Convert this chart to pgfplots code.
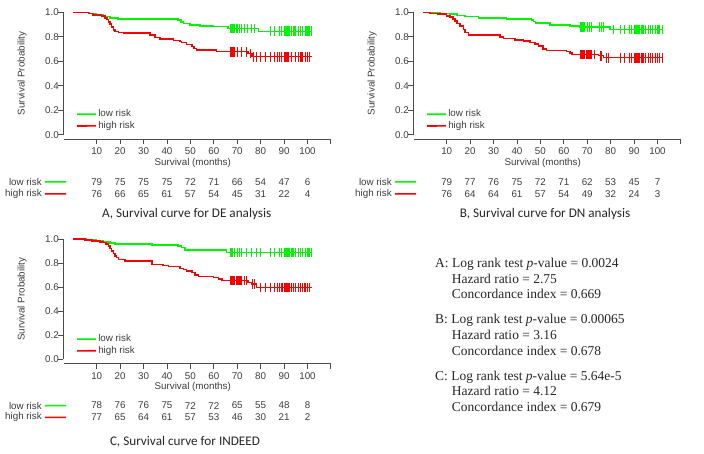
\documentclass[border=0pt]{standalone}
\usepackage{pgfplots}
\pgfplotsset{compat=1.18}
\usepackage{fontspec}
\setmainfont{Liberation Sans}
\newfontfamily\capfont{Carlito}
\newfontfamily\serifont{Liberation Serif}
\definecolor{kmgreen}{RGB}{0,245,0}
\definecolor{kmred}{RGB}{250,0,0}
\definecolor{txt}{RGB}{60,60,60}
\definecolor{axl}{RGB}{75,75,75}
\newcommand\sz{\fontsize{9.8}{11}\selectfont}
\pgfplotsset{km/.style={
  anchor=origin,
  x=2.342pt, y=#1pt,
  xmin=-4.27, xmax=110, ymin=-0.038, ymax=1,
  axis lines=left,
  axis line style={draw=none, -},
  tick align=outside, major tick length=5pt,
  tick style={axl, line width=0.9pt},
  xtick={10,20,...,110}, xticklabels={10,20,30,40,50,60,70,80,90,100,{}},
  ytick={0,0.2,0.4,0.6,0.8,1}, yticklabels={0.0,0.2,0.4,0.6,0.8,1.0},
  ticklabel style={font=\sz, text=txt},
  yticklabel style={xshift=4pt},
  /pgf/number format/assume math mode=true,
  clip=false,
  legend style={at={(axis cs:1.2,0.119)}, anchor=west, draw=none, fill=none,
     font=\sz, text=txt, inner sep=0pt, row sep=0pt,
     nodes={inner sep=1.35pt, text height=7pt, text depth=2pt, anchor=west}},
  legend image code/.code={\draw[##1, line width=1.6pt] (0pt,0pt) -- (19pt,0.05pt);},
  legend cell align=left,
  curve/.style={const plot, line width=1.5pt},
  seg/.style={line width=1.6pt, forget plot},
  cens/.style={only marks, mark=|, mark size=4.8pt, mark options={line width=0.9pt}, forget plot},
  risk/.style={draw=none, forget plot, nodes near coords, point meta=explicit symbolic,
     nodes near coords style={anchor=center, font=\sz, text=txt}, nodes near coords align=center},
}}
\newcommand\decor{%
  \fill[axl] ([xshift=-0.5pt]axis cs:-4.27,0) rectangle ([xshift=0.5pt]axis cs:-4.27,1);
  \fill[axl] ([yshift=-0.5pt]axis cs:-4,-0.038) rectangle ([yshift=0.5pt]axis cs:110,-0.038);
  \node[rotate=90, font=\sz, text=txt] at (axis cs:-21.9,0.5) {Survival Probability};
  \node[font=\sz, text=txt] at (axis cs:51,-0.231) {Survival (months)};
  \node[anchor=east, font=\sz, text=txt, inner sep=0pt] at (axis cs:-13.4,-0.385) {low risk};
  \node[anchor=east, font=\sz, text=txt, inner sep=0pt] at (axis cs:-13.4,-0.483) {high risk};
  \addplot[kmgreen, seg] coordinates {(-12.1,-0.385) (-3.1,-0.3852)};
  \addplot[kmred, seg] coordinates {(-12.1,-0.483) (-3.1,-0.4832)};
}
\begin{document}
\begin{tikzpicture}
\path[use as bounding box] (0,0) rectangle (704pt,454pt);

% ---------------- Panel A ----------------
\begin{axis}[km=122.4, at={(73.3pt,319.3pt)}]
\addplot[kmgreen, curve] coordinates {(0,1) (7,0.99) (10,0.978) (12.8,0.965) (15.7,0.955) (19.1,0.945) (44.8,0.935) (46,0.922) (47,0.91) (49.8,0.897) (54,0.89) (59.8,0.882) (66,0.866) (79,0.845) (101.8,0.845)};
\addlegendentry{low risk}
\addplot[kmred, curve] coordinates {(0,1) (6.4,0.99) (8.5,0.978) (12.1,0.97) (13.5,0.955) (14.3,0.94) (15,0.92) (15.7,0.905) (16.4,0.88) (17.1,0.857) (17.8,0.845) (19.2,0.836) (21.5,0.83) (32.7,0.814) (34.9,0.795) (37,0.78) (42.7,0.77) (45.6,0.76) (46.3,0.752) (48.4,0.735) (50.6,0.72) (51.6,0.705) (52.7,0.692) (61.2,0.678) (74.7,0.664) (76.2,0.637) (101.8,0.637)};
\addlegendentry{high risk}
\addplot[kmgreen, cens] coordinates {(67,0.866) (67.5,0.866) (68,0.866) (68.5,0.866) (69,0.866) (69.5,0.866) (70,0.866) (71,0.866) (72,0.866) (73,0.866) (74.5,0.866) (76,0.866) (77.5,0.866) (84,0.845) (86,0.845) (88,0.845) (89,0.845) (90,0.845) (90.5,0.845) (91,0.845) (91.5,0.845) (92,0.845) (92.5,0.845) (93,0.845) (94,0.845) (94.5,0.845) (95,0.845) (96,0.845) (97,0.845) (98,0.845) (99,0.845) (99.5,0.845) (100,0.845) (100.5,0.845) (101,0.845) (101.5,0.845)};
\addplot[kmred, cens] coordinates {(67,0.678) (67.5,0.678) (68,0.678) (68.5,0.678) (69,0.678) (70,0.678) (72,0.678) (74,0.678) (75.5,0.664) (77,0.637) (78,0.637) (80,0.637) (82,0.637) (84,0.637) (86,0.637) (87,0.637) (88,0.637) (89,0.637) (90,0.637) (90.5,0.637) (91,0.637) (91.5,0.637) (92,0.637) (93,0.637) (95,0.637) (96,0.637) (97,0.637) (97.5,0.637) (98,0.637) (99,0.637) (100,0.637) (101,0.637)};
\addplot[risk] coordinates {(10,-0.385)[79] (20,-0.385)[75] (30,-0.385)[75] (40,-0.385)[75] (50,-0.385)[72] (60,-0.385)[71] (70,-0.385)[66] (80,-0.385)[54] (90,-0.385)[47] (100,-0.385)[6]};
\addplot[risk] coordinates {(10,-0.483)[76] (20,-0.483)[66] (30,-0.483)[65] (40,-0.483)[61] (50,-0.483)[57] (60,-0.483)[54] (70,-0.483)[45] (80,-0.483)[31] (90,-0.483)[22] (100,-0.483)[4]};
\decor
\end{axis}

% ---------------- Panel B ----------------
\begin{axis}[km=122.4, at={(423.3pt,319.3pt)}]
\addplot[kmgreen, curve] coordinates {(0,1) (5,0.995) (7.1,0.99) (11.4,0.984) (14.3,0.973) (17.8,0.965) (23.5,0.955) (35.6,0.946) (46.3,0.935) (47,0.925) (48,0.911) (54.1,0.897) (62.6,0.889) (66.9,0.879) (79.7,0.859) (102.5,0.859)};
\addlegendentry{low risk}
\addplot[kmred, curve] coordinates {(0,1) (2.8,0.99) (6.3,0.985) (10,0.97) (11.4,0.96) (12.7,0.945) (13.5,0.93) (14.3,0.91) (15.7,0.89) (17.1,0.86) (17.8,0.835) (19.2,0.813) (32.7,0.80) (34.2,0.786) (39.2,0.775) (42.7,0.765) (45.6,0.753) (47.7,0.74) (49.1,0.724) (51.2,0.70) (52.7,0.688) (61.2,0.678) (62.6,0.667) (63.5,0.656) (74.7,0.645) (76.9,0.629) (102.5,0.629)};
\addlegendentry{high risk}
\addplot[kmgreen, cens] coordinates {(67,0.879) (67.5,0.879) (68,0.879) (68.5,0.879) (69,0.879) (70,0.879) (71,0.879) (72,0.879) (75,0.879) (76,0.879) (77,0.879) (81,0.859) (84,0.859) (86,0.859) (88,0.859) (89,0.859) (90,0.859) (90.5,0.859) (91,0.859) (91.5,0.859) (92,0.859) (92.5,0.859) (93,0.859) (93.5,0.859) (94,0.859) (95,0.859) (96,0.859) (97,0.859) (98,0.859) (99,0.859) (100,0.859) (100.5,0.859) (101,0.859) (102,0.859)};
\addplot[kmred, cens] coordinates {(67,0.656) (67.5,0.656) (68,0.656) (68.5,0.656) (69,0.656) (69.5,0.656) (70,0.656) (70.5,0.656) (71,0.656) (71.5,0.656) (72,0.656) (73,0.656) (75.5,0.645) (76,0.645) (78,0.629) (79,0.629) (84,0.629) (86,0.629) (88,0.629) (89,0.629) (90,0.629) (90.5,0.629) (91,0.629) (91.5,0.629) (92,0.629) (92.5,0.629) (93,0.629) (93.5,0.629) (94,0.629) (95,0.629) (96,0.629) (97,0.629) (98,0.629) (99,0.629) (100,0.629) (101,0.629) (102,0.629)};
\addplot[risk] coordinates {(10,-0.385)[79] (20,-0.385)[77] (30,-0.385)[76] (40,-0.385)[75] (50,-0.385)[72] (60,-0.385)[71] (70,-0.385)[62] (80,-0.385)[53] (90,-0.385)[45] (100,-0.385)[7]};
\addplot[risk] coordinates {(10,-0.483)[76] (20,-0.483)[64] (30,-0.483)[64] (40,-0.483)[61] (50,-0.483)[57] (60,-0.483)[54] (70,-0.483)[49] (80,-0.483)[32] (90,-0.483)[24] (100,-0.483)[3]};
\decor
\end{axis}

% ---------------- Panel C ----------------
\begin{axis}[km=120.3, at={(73.3pt,94.7pt)}]
\addplot[kmgreen, curve] coordinates {(0,1) (5.7,0.995) (10,0.983) (12.8,0.975) (15.7,0.968) (17.8,0.958) (33.5,0.95) (44.8,0.94) (46.3,0.93) (47.7,0.909) (65.5,0.889) (101.8,0.889)};
\addlegendentry{low risk}
\addplot[kmred, curve] coordinates {(0,1) (5,0.99) (7.9,0.985) (11.4,0.975) (12.8,0.97) (14,0.96) (15,0.94) (15.7,0.92) (16.4,0.90) (17.1,0.88) (17.8,0.86) (18.5,0.845) (19.2,0.83) (22.1,0.817) (33.5,0.79) (38.4,0.778) (40.6,0.77) (45.6,0.756) (47,0.745) (48.4,0.735) (50.6,0.72) (52,0.70) (53.4,0.687) (59.8,0.68) (61.9,0.667) (63.4,0.654) (74.7,0.64) (76.2,0.625) (78.3,0.598) (101.8,0.598)};
\addlegendentry{high risk}
\addplot[kmgreen, cens] coordinates {(67,0.889) (67.5,0.889) (68,0.889) (69,0.889) (70,0.889) (71,0.889) (72,0.889) (74,0.889) (76,0.889) (78,0.889) (80,0.889) (84,0.889) (86,0.889) (88,0.889) (89,0.889) (90,0.889) (90.5,0.889) (91,0.889) (91.5,0.889) (92,0.889) (92.5,0.889) (93,0.889) (93.5,0.889) (94,0.889) (95,0.889) (96,0.889) (97,0.889) (98,0.889) (99,0.889) (100,0.889) (100.5,0.889) (101,0.889) (101.5,0.889)};
\addplot[kmred, cens] coordinates {(67,0.654) (67.5,0.654) (68,0.654) (68.5,0.654) (69,0.654) (69.5,0.654) (70,0.654) (70.5,0.654) (71,0.654) (71.5,0.654) (72,0.654) (73,0.654) (74,0.654) (76.5,0.625) (77.5,0.625) (80,0.598) (82,0.598) (84,0.598) (86,0.598) (87,0.598) (88,0.598) (89,0.598) (89.5,0.598) (90,0.598) (90.5,0.598) (91,0.598) (91.5,0.598) (92,0.598) (92.5,0.598) (93,0.598) (94,0.598) (95,0.598) (96,0.598) (97,0.598) (98,0.598) (98.5,0.598) (99,0.598) (100,0.598) (101,0.598)};
\addplot[risk] coordinates {(10,-0.385)[78] (20,-0.385)[76] (30,-0.385)[76] (40,-0.385)[75] (50,-0.385)[72] (60,-0.385)[72] (70,-0.385)[65] (80,-0.385)[55] (90,-0.385)[48] (100,-0.385)[8]};
\addplot[risk] coordinates {(10,-0.483)[77] (20,-0.483)[65] (30,-0.483)[64] (40,-0.483)[61] (50,-0.483)[57] (60,-0.483)[53] (70,-0.483)[46] (80,-0.483)[30] (90,-0.483)[21] (100,-0.483)[2]};
\decor
\end{axis}

% ---------------- Captions and text ----------------
\begin{scope}[shift={(0,454pt)}, x=1pt, y=-1pt]
\node[font=\capfont\fontsize{13.2}{15}\selectfont, text=black!85] at (186.7,214) {A, Survival curve for DE analysis};
\node[font=\capfont\fontsize{13.2}{15}\selectfont, text=black!85] at (545,214) {B, Survival curve for DN analysis};
\node[font=\capfont\fontsize{13.2}{15}\selectfont, text=black!85] at (185,441.7) {C, Survival curve for INDEED};
\begin{scope}[every node/.style={anchor=base west, inner sep=0pt, font=\serifont\fontsize{13.5}{15}\selectfont, text=black!85}]
\node at (435,267.8) {A: Log rank test \textit{p}-value = 0.0024};
\node at (451.7,283.5) {Hazard ratio = 2.75};
\node at (451.7,298.8) {Concordance index = 0.669};
\node at (435,323.8) {B: Log rank test \textit{p}-value = 0.00065};
\node at (451.7,339.5) {Hazard ratio = 3.16};
\node at (451.7,355.2) {Concordance index = 0.678};
\node at (435,380.2) {C: Log rank test \textit{p}-value = 5.64e-5};
\node at (451.7,395.8) {Hazard ratio = 4.12};
\node at (451.7,411.2) {Concordance index = 0.679};
\end{scope}
\end{scope}
\end{tikzpicture}
\end{document}
